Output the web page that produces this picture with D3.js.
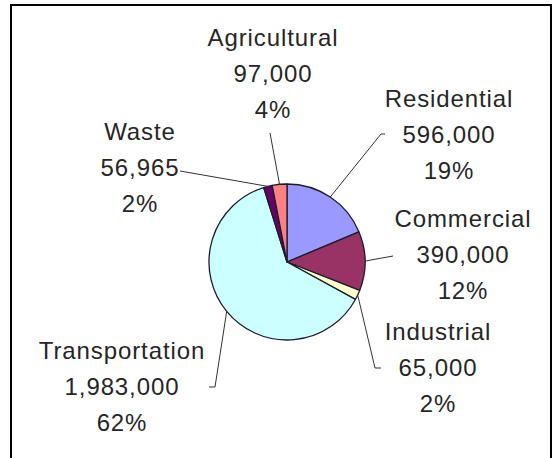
<!DOCTYPE html>
<html>
<head>
<meta charset="utf-8">
<script src="https://cdn.jsdelivr.net/npm/d3@7"></script>
<style>
  body { margin: 0; background: #fff; }
  svg { display: block; }
  text { font-family: "Liberation Sans", Arial, sans-serif; font-size: 24px; letter-spacing: 0.9px; fill: #262626; }
</style>
</head>
<body>
<svg id="chart" width="553" height="458"></svg>
<script>
var categories = ["Residential", "Commercial", "Industrial", "Transportation", "Waste", "Agricultural"];
var values = [596000, 390000, 65000, 1983000, 56965, 97000];
var pctLabels = ["19%", "12%", "2%", "62%", "2%", "4%"];
var colors = ["#9999FF", "#993366", "#FFFFCC", "#CCFFFF", "#660066", "#FF8080"];

// where each label block sits (first baseline, centered) and where its leader line ends
var labelPos = [
  { x: 449, y: 107, end: [381, 134], tick: [385, 134] },
  { x: 463, y: 227, end: [393, 256] },
  { x: 438, y: 340, end: [375, 368], tick: [381, 368] },
  { x: 122, y: 359, end: [215, 387], tick: [209, 387] },
  { x: 140, y: 140, end: [180, 171] },
  { x: 273, y: 46, end: [270, 133] }
];

var cx = 287, cy = 262, radius = 78;
var lineGap = 36;

var svg = d3.select("#chart");

// frame
svg.append("path")
  .attr("d", "M11,458 V5 H551 V458")
  .attr("fill", "none")
  .attr("stroke", "#000")
  .attr("stroke-width", 2);

var data = categories.map(function (c, i) {
  return { name: c, value: values[i], pct: pctLabels[i], color: colors[i], pos: labelPos[i] };
});

var pie = d3.pie().sort(null).value(function (d) { return d.value; });
var arc = d3.arc().innerRadius(0).outerRadius(radius);

var g = svg.append("g").attr("transform", "translate(" + cx + "," + cy + ")");

var arcs = pie(data);

g.selectAll("path.slice")
  .data(arcs)
  .enter()
  .append("path")
  .attr("class", "slice")
  .attr("d", arc)
  .attr("fill", function (d) { return d.data.color; })
  .attr("stroke", "#1c1c2e")
  .attr("stroke-width", 1.3)
  .attr("stroke-linejoin", "round");

// leader lines
arcs.forEach(function (d) {
  var mid = (d.startAngle + d.endAngle) / 2;
  var sx = cx + Math.sin(mid) * radius;
  var sy = cy - Math.cos(mid) * radius;
  var pts = [[sx, sy], d.data.pos.end];
  if (d.data.pos.tick) pts.push(d.data.pos.tick);
  svg.append("path")
    .attr("d", d3.line()(pts))
    .attr("fill", "none")
    .attr("stroke", "#333")
    .attr("stroke-width", 1);
});

// labels
var fmt = d3.format(",");
data.forEach(function (d) {
  var t = svg.append("text")
    .attr("text-anchor", "middle")
    .attr("x", d.pos.x)
    .attr("y", d.pos.y);
  [d.name, fmt(d.value), d.pct].forEach(function (s, k) {
    t.append("tspan")
      .attr("x", d.pos.x)
      .attr("y", d.pos.y + k * lineGap)
      .text(s);
  });
});
</script>
</body>
</html>
